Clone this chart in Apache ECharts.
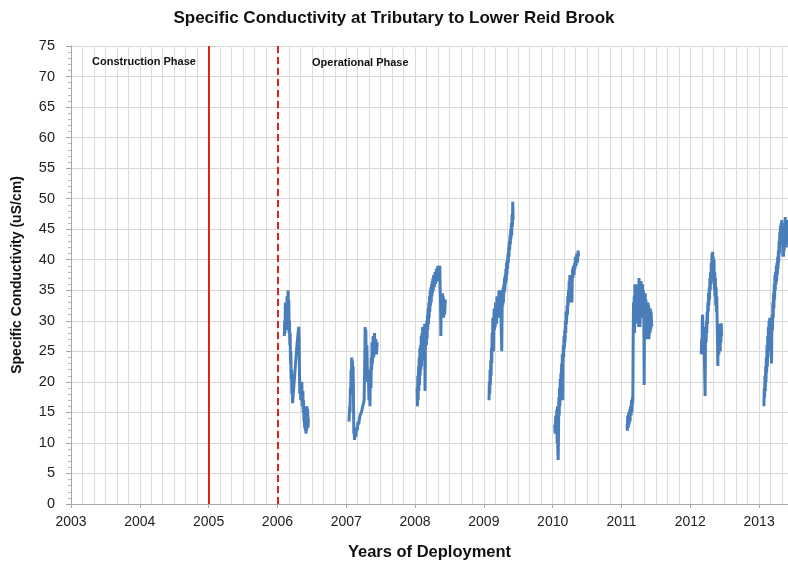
<!DOCTYPE html>
<html>
<head>
<meta charset="utf-8">
<script src="https://cdn.jsdelivr.net/npm/echarts@6/dist/echarts.min.js"></script>
<style>
  html, body { margin: 0; padding: 0; background: #fff; }
  #chart { width: 788px; height: 566px; }
</style>
</head>
<body>
<div id="chart"></div>
<script>
// Specific conductivity readings (decimal year, uS/cm), one deployment per year
var y2006 = [[2006.10,27.5],[2006.105,30],[2006.11,28],[2006.115,33],[2006.12,29],[2006.13,32],[2006.135,28.5],[2006.14,34],[2006.15,30.5],[2006.155,35],[2006.16,31],[2006.165,33.5],[2006.17,28],[2006.175,30],[2006.18,26],[2006.185,28],[2006.19,23],[2006.195,25],[2006.20,20.5],[2006.205,22],[2006.21,18],[2006.215,19.5],[2006.22,16.5],[2006.24,19.5],[2006.26,22.5],[2006.28,25.5],[2006.30,28],[2006.31,29],[2006.315,27],[2006.32,22],[2006.325,18],[2006.33,19.5],[2006.34,17],[2006.345,19],[2006.35,18],[2006.355,20],[2006.36,16],[2006.37,18.5],[2006.375,15],[2006.38,17],[2006.385,13.5],[2006.39,16],[2006.395,12.5],[2006.40,15.5],[2006.405,12],[2006.41,14],[2006.415,11.5],[2006.42,14.5],[2006.425,12],[2006.43,16],[2006.435,13],[2006.44,15.5],[2006.445,12.5],[2006.45,14]];
var y2007 = [[2007.04,13.5],[2007.05,16],[2007.055,15],[2007.06,19],[2007.065,18],[2007.07,22],[2007.075,20],[2007.08,24],[2007.085,21],[2007.09,23.5],[2007.095,20.5],[2007.10,22.5],[2007.105,18],[2007.11,11.5],[2007.115,12.5],[2007.12,10.5],[2007.13,12],[2007.14,11],[2007.15,12.5],[2007.16,12],[2007.17,13.5],[2007.18,13],[2007.20,14.5],[2007.22,15],[2007.24,16],[2007.26,17],[2007.27,24],[2007.275,29],[2007.28,26],[2007.285,28.5],[2007.29,23],[2007.30,26],[2007.31,20],[2007.32,22],[2007.33,17],[2007.34,19],[2007.345,16],[2007.35,21],[2007.36,19],[2007.365,24],[2007.37,22],[2007.375,26.5],[2007.38,23],[2007.39,27.5],[2007.40,24],[2007.41,28],[2007.42,25],[2007.43,27],[2007.44,24.5],[2007.45,26.5]];
var y2008 = [[2008.03,19],[2008.035,16],[2008.04,21],[2008.045,17],[2008.05,22.5],[2008.055,18.5],[2008.06,24],[2008.065,19.5],[2008.07,25.5],[2008.075,21],[2008.08,26],[2008.085,22],[2008.09,27.5],[2008.095,22.5],[2008.10,28],[2008.105,23.5],[2008.11,29],[2008.115,24.5],[2008.12,28],[2008.125,23.5],[2008.13,27],[2008.14,29.5],[2008.145,18.5],[2008.15,25.5],[2008.16,29],[2008.165,26],[2008.17,30],[2008.175,27],[2008.18,31],[2008.185,28.5],[2008.19,32],[2008.195,29.5],[2008.20,33],[2008.205,30.5],[2008.21,34],[2008.215,31.5],[2008.22,35],[2008.225,32.5],[2008.23,35.5],[2008.235,33],[2008.24,36],[2008.245,34],[2008.25,36.5],[2008.255,34.5],[2008.26,37],[2008.265,35],[2008.27,37.5],[2008.28,35.5],[2008.29,38],[2008.30,36],[2008.31,38.5],[2008.32,36.5],[2008.33,39],[2008.34,37],[2008.35,38.5],[2008.36,39],[2008.365,35],[2008.37,33.5],[2008.375,27.5],[2008.38,33],[2008.385,30.5],[2008.39,34],[2008.395,31],[2008.40,34.5],[2008.405,31.5],[2008.41,34],[2008.415,30.5],[2008.42,33.5],[2008.43,31],[2008.44,33.5]];
var y2009 = [[2009.075,17],[2009.08,20],[2009.085,18],[2009.09,22],[2009.095,19.5],[2009.10,23.5],[2009.105,21],[2009.11,25.5],[2009.115,23],[2009.12,28],[2009.125,25],[2009.13,30.5],[2009.135,27],[2009.14,25],[2009.145,30],[2009.15,32],[2009.155,28.5],[2009.16,31],[2009.165,29],[2009.17,33],[2009.175,30],[2009.18,32.5],[2009.185,29.5],[2009.19,34],[2009.195,31],[2009.20,33.5],[2009.21,30.5],[2009.22,35],[2009.225,32],[2009.23,34.5],[2009.24,31],[2009.245,35],[2009.25,30],[2009.26,25],[2009.265,31.5],[2009.27,34.5],[2009.275,32.5],[2009.28,35.5],[2009.285,33],[2009.29,36],[2009.295,34.5],[2009.30,37],[2009.305,35],[2009.31,37.5],[2009.315,36],[2009.32,38.5],[2009.325,36.5],[2009.33,39.5],[2009.335,37.5],[2009.34,40],[2009.345,38.5],[2009.35,41],[2009.355,39.5],[2009.36,42],[2009.365,40.5],[2009.37,43],[2009.375,41.5],[2009.38,44],[2009.385,42.5],[2009.39,45],[2009.395,43.5],[2009.40,46],[2009.405,44],[2009.41,47.5],[2009.415,45.5],[2009.42,49.5],[2009.425,46.5]];
var y2010 = [[2010.03,13],[2010.035,11.5],[2010.045,14.5],[2010.05,12],[2010.06,15.5],[2010.065,10],[2010.07,16],[2010.075,8.5],[2010.08,7.2],[2010.085,12],[2010.09,17.5],[2010.095,14.5],[2010.10,19],[2010.105,16],[2010.11,20.5],[2010.115,17.5],[2010.12,21.5],[2010.125,19],[2010.13,23],[2010.135,20],[2010.14,24.5],[2010.145,17],[2010.15,23],[2010.155,26],[2010.16,24],[2010.165,27.5],[2010.17,25.5],[2010.175,28.5],[2010.18,26.5],[2010.185,30],[2010.19,28],[2010.195,31.5],[2010.20,29.5],[2010.21,32.5],[2010.215,31],[2010.22,34],[2010.225,32.5],[2010.23,35],[2010.235,33.5],[2010.24,36.5],[2010.245,34.5],[2010.25,37.5],[2010.26,36],[2010.265,33],[2010.27,36.5],[2010.28,33],[2010.285,37],[2010.29,38.5],[2010.295,37],[2010.30,39],[2010.31,37.5],[2010.32,39.5],[2010.325,38.5],[2010.33,40.5],[2010.34,39],[2010.35,41],[2010.36,39.5],[2010.37,41.5],[2010.375,40.5]];
var y2011 = [[2011.08,13],[2011.085,12],[2011.09,14.5],[2011.10,12.5],[2011.105,15],[2011.11,13],[2011.12,15.5],[2011.125,13.5],[2011.13,16],[2011.14,14.5],[2011.145,17],[2011.15,15],[2011.16,17.5],[2011.165,16.5],[2011.17,27],[2011.175,33],[2011.18,29],[2011.185,34],[2011.19,28],[2011.195,36],[2011.20,31],[2011.205,35.5],[2011.21,30],[2011.215,35],[2011.22,29.5],[2011.225,34],[2011.23,30],[2011.235,36],[2011.24,31],[2011.245,34.5],[2011.25,29],[2011.255,37],[2011.26,31.5],[2011.265,35.5],[2011.27,29],[2011.275,34],[2011.28,31],[2011.285,36.5],[2011.29,32],[2011.295,35],[2011.30,30.5],[2011.305,36],[2011.31,31],[2011.32,35],[2011.325,30],[2011.33,19.5],[2011.335,33],[2011.34,29],[2011.345,34.5],[2011.35,28],[2011.355,33.5],[2011.36,27],[2011.365,33],[2011.37,28.5],[2011.375,32.5],[2011.38,27.5],[2011.385,33],[2011.39,29],[2011.395,32.5],[2011.40,27],[2011.41,31.5],[2011.415,28],[2011.42,32],[2011.425,28.5],[2011.43,31.5],[2011.44,29]];
var y2012 = [[2012.16,24.5],[2012.165,27],[2012.17,25],[2012.175,30.5],[2012.18,31],[2012.185,26.5],[2012.19,29],[2012.195,25],[2012.20,28],[2012.205,24],[2012.21,21],[2012.215,17.7],[2012.22,26],[2012.225,28.5],[2012.23,26.5],[2012.235,30],[2012.24,28],[2012.245,31.5],[2012.25,29.5],[2012.255,33],[2012.26,31.5],[2012.265,34.5],[2012.27,32.5],[2012.275,35.5],[2012.28,33.5],[2012.285,37],[2012.29,35],[2012.295,38],[2012.30,36],[2012.305,39.5],[2012.31,37.5],[2012.315,41],[2012.32,38.5],[2012.325,41.3],[2012.33,38],[2012.335,40.5],[2012.34,36.5],[2012.345,40],[2012.35,35],[2012.355,38],[2012.36,34],[2012.365,37],[2012.37,32.5],[2012.375,35.5],[2012.38,31.5],[2012.385,34],[2012.39,30],[2012.395,27],[2012.40,22.6],[2012.405,26.5],[2012.41,29],[2012.415,24.5],[2012.42,29.5],[2012.425,25.5],[2012.43,28.5],[2012.435,25],[2012.44,29.5],[2012.445,26.5],[2012.45,29.6],[2012.455,27.5]];
var y2013 = [[2013.07,16],[2013.075,19],[2013.08,17.5],[2013.085,21],[2013.09,18.5],[2013.095,22.5],[2013.10,20],[2013.105,24],[2013.11,21.5],[2013.115,26],[2013.12,22.5],[2013.125,27.5],[2013.13,24],[2013.135,29],[2013.14,25.5],[2013.145,30],[2013.15,26.5],[2013.155,30.5],[2013.16,27.5],[2013.165,29.5],[2013.17,25],[2013.175,28.5],[2013.18,23],[2013.185,28],[2013.19,31],[2013.195,28.5],[2013.20,33],[2013.205,30.5],[2013.21,34.5],[2013.215,32],[2013.22,36],[2013.225,33.5],[2013.23,37.5],[2013.235,35],[2013.24,38],[2013.245,36],[2013.25,39],[2013.255,36.5],[2013.26,39.5],[2013.265,37.5],[2013.27,40.5],[2013.275,38.5],[2013.28,41.5],[2013.285,39.5],[2013.29,43],[2013.295,41],[2013.30,44.5],[2013.305,42.5],[2013.31,45.5],[2013.315,43],[2013.32,46],[2013.325,43.5],[2013.33,46.5],[2013.335,42.5],[2013.34,45.5],[2013.345,40.5],[2013.35,44.5],[2013.355,40.5],[2013.36,45],[2013.365,41.5],[2013.37,46],[2013.375,42.5],[2013.38,47],[2013.385,43.5],[2013.39,46.5],[2013.395,42],[2013.40,45.5],[2013.405,42.5],[2013.41,46.5],[2013.415,43.5],[2013.42,46]];

var deployments = [y2006, y2007, y2008, y2009, y2010, y2011, y2012, y2013];

// Axis ranges and phase boundaries
var xMin = 2003, xMax = 2013.42, xStep = 1;
var yMin = 0, yMax = 75, yStep = 5;
var constructionEnd = 2005;   // solid red line
var operationStart = 2006;    // dashed red line
var phaseLabels = ['Construction Phase', 'Operational Phase'];

var font = '"Liberation Sans", Arial, sans-serif';
var blue = '#4a7ebb';
var red = '#e0201c';

var chart = echarts.init(document.getElementById('chart'), null, { renderer: 'canvas' });

var series = deployments.map(function (d, i) {
  var s = {
    type: 'line',
    data: d,
    xAxisIndex: 0,
    yAxisIndex: 0,
    showSymbol: false,
    symbol: 'none',
    lineStyle: { color: blue, width: 3 },
    itemStyle: { color: blue },
    silent: true,
    z: 3
  };
  if (i === 0) {
    s.markLine = {
      silent: true,
      symbol: 'none',
      label: { show: false },
      z: 4,
      data: [
        { xAxis: constructionEnd, lineStyle: { color: red, width: 2, type: 'solid' } },
        { xAxis: operationStart, lineStyle: { color: red, width: 2, type: [7, 4] } }
      ]
    };
  }
  return s;
});

chart.setOption({
  animation: false,
  backgroundColor: '#ffffff',
  title: {
    text: 'Specific Conductivity at Tributary to Lower Reid Brook',
    left: 'center',
    top: 5,
    textStyle: { fontFamily: font, fontSize: 17, fontWeight: 'bold', color: '#111' }
  },
  grid: { left: 71, right: 0, top: 46, bottom: 59, containLabel: false },
  xAxis: [
    {
      type: 'value',
      min: xMin, max: xMax, interval: xStep,
      name: 'Years of Deployment',
      nameLocation: 'middle',
      nameGap: 40,
      nameTextStyle: { fontFamily: font, fontSize: 16.5, fontWeight: 'bold', color: '#111' },
      axisLine: { show: true, lineStyle: { color: '#a6a6a6', width: 1 } },
      axisTick: { show: true, length: 4, lineStyle: { color: '#a6a6a6' } },
      axisLabel: {
        showMaxLabel: false,
        margin: 11,
        fontFamily: font, fontSize: 14, color: '#222',
        formatter: function (v) { return Math.abs(v - Math.round(v)) < 1e-6 ? String(Math.round(v)) : ''; }
      },
      splitLine: { show: false }
    },
    {
      // two-month grid
      type: 'value',
      min: xMin, max: xMax, interval: 1 / 6,
      show: true,
      position: 'bottom',
      axisLine: { show: false },
      axisTick: { show: false },
      axisLabel: { show: false },
      splitLine: { show: true, lineStyle: { color: '#dcdcdc', width: 1 } }
    }
  ],
  yAxis: {
    type: 'value',
    min: yMin, max: yMax, interval: yStep,
    name: 'Specific Conductivity (uS/cm)',
    nameLocation: 'middle',
    nameGap: 47,
    nameTextStyle: { fontFamily: font, fontSize: 14, fontWeight: 'bold', color: '#111' },
    axisLine: { show: true, lineStyle: { color: '#a6a6a6', width: 1 } },
    axisTick: { show: true, length: 5, lineStyle: { color: '#a6a6a6' } },
    minorTick: { show: true, splitNumber: 5, length: 3, lineStyle: { color: '#b8b8b8' } },
    axisLabel: { margin: 16, fontFamily: font, fontSize: 14.5, color: '#222' },
    splitLine: { show: true, lineStyle: { color: '#d6d6d6', width: 1 } }
  },
  graphic: [
    { type: 'text', left: 92, top: 56, z: 100, silent: true,
      style: { text: phaseLabels[0], font: 'bold 11px ' + font, fill: '#111' } },
    { type: 'text', left: 312, top: 57, z: 100, silent: true,
      style: { text: phaseLabels[1], font: 'bold 11px ' + font, fill: '#111' } }
  ],
  series: series
});
</script>
</body>
</html>
